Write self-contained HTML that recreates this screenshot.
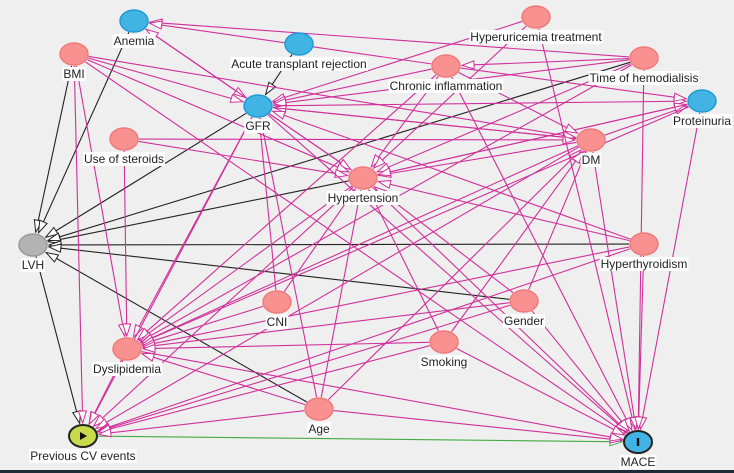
<!DOCTYPE html>
<html><head><meta charset="utf-8"><style>
html,body{margin:0;padding:0;background:#efefef;}
svg{display:block;font-family:"Liberation Sans",sans-serif;}
</style></head><body>
<svg id="s" width="734" height="473" viewBox="0 0 734 473" xmlns="http://www.w3.org/2000/svg">
<defs>
<marker id="mp" markerWidth="14" markerHeight="10" refX="13" refY="5" orient="auto" markerUnits="userSpaceOnUse"><path d="M1,1 L13,5 L1,9 Z" fill="#fff" stroke="#d0309a" stroke-width="1"/></marker>
<marker id="mk" markerWidth="14" markerHeight="10" refX="13" refY="5" orient="auto" markerUnits="userSpaceOnUse"><path d="M1,1 L13,5 L1,9 Z" fill="#fff" stroke="#222" stroke-width="1"/></marker>
<marker id="mg" markerWidth="14" markerHeight="10" refX="13" refY="5" orient="auto" markerUnits="userSpaceOnUse"><path d="M1,1 L13,5 L1,9 Z" fill="#fff" stroke="#4a4" stroke-width="1"/></marker>
</defs>
<rect x="0" y="470" width="734" height="3" fill="#1e2a3a"/>
<g id="edges"></g><g id="nodes"></g>
</svg>
<script>
var N={
Anemia:[134,21,'b','Anemia',0],ATR:[299,44,'b','Acute transplant rejection',0],BMI:[74,54,'p','BMI',0],
GFR:[258,106,'b','GFR',0],UoS:[124,139,'p','Use of steroids',0],Hyp:[363,178,'p','Hypertension',0],
HUT:[536,17,'p','Hyperuricemia treatment',0],CI:[446,66,'p','Chronic inflammation',0],
TH:[644,58,'p','Time of hemodialisis',0],Prot:[702,101,'b','Proteinuria',0],DM:[591,140,'p','DM',0],
LVH:[33,245,'g','LVH',0],HT:[644,244,'p','Hyperthyroidism',0],CNI:[277,302,'p','CNI',0],
Gen:[524,301,'p','Gender',0],Dys:[127,349,'p','Dyslipidemia',0],Smk:[444,342,'p','Smoking',0],
Age:[319,409,'p','Age',0],PCV:[83,436,'y','Previous CV events',0],MACE:[638,442,'c','MACE',0]};
var E=[
['ATR','GFR','k'],['BMI','LVH','k'],['Anemia','LVH','k'],['GFR','LVH','k'],['Hyp','LVH','k'],['TH','LVH','k'],['HT','LVH','k'],['Gen','LVH','k'],['Age','LVH','k'],['LVH','PCV','k'],['PCV','MACE','g'],
['TH','Anemia'],['CI','Anemia'],['Anemia','GFR'],['Hyp','Anemia'],
['BMI','GFR'],['HUT','GFR'],['CI','GFR'],['TH','GFR'],['DM','GFR'],['Age','GFR'],['CNI','GFR'],['HT','GFR'],
['GFR','Prot'],['GFR','Hyp'],['GFR','DM'],['CI','Prot'],['DM','Prot'],['Hyp','Prot'],
['BMI','Hyp'],['UoS','Hyp'],['CI','Hyp'],['HUT','Hyp'],['TH','Hyp'],['DM','Hyp'],['Prot','Hyp'],['CNI','Hyp'],['Age','Hyp'],['Smk','Hyp'],['Gen','Hyp'],['HT','Hyp'],
['BMI','DM'],['UoS','DM'],['CI','DM'],['Age','DM'],['Gen','DM'],['Smk','DM'],['TH','CI'],
['BMI','Dys'],['UoS','Dys'],['GFR','Dys'],['Hyp','Dys'],['CI','Dys'],['TH','Dys'],['DM','Dys'],['Prot','Dys'],['CNI','Dys'],['HT','Dys'],['Gen','Dys'],['Smk','Dys'],['Age','Dys'],
['BMI','PCV'],['Dys','PCV'],['Hyp','PCV'],['DM','PCV'],['HT','PCV'],['Gen','PCV'],['Smk','PCV'],['Age','PCV'],['GFR','PCV'],
['BMI','MACE'],['GFR','MACE'],['Hyp','MACE'],['HUT','MACE'],['CI','MACE'],['TH','MACE'],['Prot','MACE'],['DM','MACE'],['HT','MACE'],['Gen','MACE'],['Smk','MACE'],['Age','MACE'],['Dys','MACE']];
var ns='http://www.w3.org/2000/svg',eg=document.getElementById('edges'),ng=document.getElementById('nodes');
function mk(t,a,p){var e=document.createElementNS(ns,t);for(var k in a)e.setAttribute(k,a[k]);p.appendChild(e);return e;}
var RX=15,RY=12;
E.forEach(function(e){var a=N[e[0]],b=N[e[1]];var dx=b[0]-a[0],dy=b[1]-a[1];var L=Math.sqrt(dx*dx+dy*dy);var ux=dx/L,uy=dy/L;
var t=1/Math.sqrt(ux*ux/(RX*RX)+uy*uy/(RY*RY));var c=e[2]=='k'?'#222':e[2]=='g'?'#4a4':'#d0309a';var m=e[2]=='k'?'mk':e[2]=='g'?'mg':'mp';
mk('line',{x1:a[0]+ux*t,y1:a[1]+uy*t,x2:b[0]-ux*(t+1),y2:b[1]-uy*(t+1),stroke:c,'stroke-width':1.1,'marker-end':'url(#'+m+')'},eg);});
var col={p:['#f99191','#f07a7a'],b:['#41b4e3','#1e9bd7'],g:['#b3b3b3','#999'],y:['#c9da4a','#222'],c:['#41b4e3','#222']};
for(var k in N){var n=N[k];var c=col[n[2]];var sw=(n[2]=='y'||n[2]=='c')?2:1.5;
mk('ellipse',{cx:n[0],cy:n[1],rx:14,ry:11,fill:c[0],stroke:c[1],'stroke-width':sw},ng);
if(n[2]=='y')mk('path',{d:'M'+(n[0]-3)+','+(n[1]-4)+' L'+(n[0]+4)+','+n[1]+' L'+(n[0]-3)+','+(n[1]+4)+'Z',fill:'#111'},ng);
if(n[2]=='c')mk('rect',{x:n[0]-1.2,y:n[1]-4,width:2.4,height:8,fill:'#111'},ng);
var tx=mk('text',{x:n[0]+n[4],y:n[1]+24,'text-anchor':'middle','font-size':12,fill:'#222'},ng);tx.textContent=n[3];
var bb=tx.getBBox();var r=mk('rect',{x:bb.x-1,y:bb.y,width:bb.width+2,height:bb.height,fill:'#fff'},ng);ng.insertBefore(r,tx);}
</script>
</body></html>
